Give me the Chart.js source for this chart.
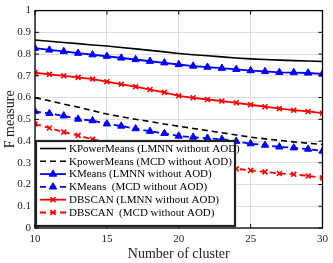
<!DOCTYPE html>
<html><head><meta charset="utf-8">
<script src="https://cdn.jsdelivr.net/npm/chart.js@4.4.1/dist/chart.umd.min.js"></script>
<style>html,body{margin:0;padding:0;background:#fff}#wrap{width:333px;height:263px}</style>
</head><body><div id="wrap"><canvas id="c" width="333" height="263"></canvas></div>
<script>
const clusters = [10,11,12,13,14,15,16,17,18,19,20,21,22,23,24,25,26,27,28,29,30];
const kpmLMNN = [0.865,0.859,0.853,0.848,0.842,0.837,0.830,0.824,0.817,0.810,0.803,0.797,0.792,0.787,0.782,0.778,0.775,0.772,0.770,0.768,0.766];
const kpmMCD  = [0.600,0.585,0.570,0.556,0.540,0.524,0.512,0.500,0.490,0.478,0.468,0.458,0.448,0.438,0.428,0.418,0.410,0.403,0.396,0.390,0.384];
const kmLMNN  = [0.827,0.819,0.812,0.804,0.797,0.790,0.782,0.775,0.767,0.760,0.752,0.745,0.740,0.735,0.730,0.724,0.720,0.716,0.715,0.713,0.709];
const kmMCD   = [0.536,0.527,0.516,0.501,0.494,0.479,0.469,0.457,0.445,0.435,0.423,0.418,0.413,0.408,0.399,0.388,0.381,0.373,0.369,0.363,0.354];
const dbLMNN  = [0.715,0.707,0.700,0.693,0.685,0.673,0.661,0.650,0.637,0.624,0.608,0.599,0.591,0.584,0.576,0.567,0.558,0.549,0.542,0.536,0.528];
const dbMCD   = [0.478,0.460,0.441,0.426,0.408,0.393,0.375,0.360,0.345,0.330,0.318,0.305,0.293,0.282,0.272,0.265,0.258,0.251,0.247,0.239,0.231];
const seriesLabels = ['KPowerMeans (LMNN without AOD)','KpowerMeans (MCD without AOD)','KMeans (LMNN without AOD)','KMeans  (MCD without AOD)','DBSCAN (LMNN without AOD)','DBSCAN  (MCD without AOD)'];
const yTicks = [0,0.1,0.2,0.3,0.4,0.5,0.6,0.7,0.8,0.9,1];
const xTicks = [10,15,20,25,30];

const pts = arr => arr.map((v,i)=>({x:clusters[i], y:v}));
const FONT = "'Liberation Serif','DejaVu Serif',serif";
const mk = (label, data, color, dash, style, radius, bw) => ({
  label, data: pts(data), borderColor: color, backgroundColor: color,
  borderWidth: bw, borderDash: dash, pointStyle: style, pointRadius: radius,
  pointBorderWidth: style==='crossRot'?1.6:1, pointBackgroundColor: color, pointBorderColor: color,
  tension: 0, fill: false
});
const datasets = [
  mk(seriesLabels[0], kpmLMNN, '#000000', [], false, 0, 1.6),
  mk(seriesLabels[1], kpmMCD, '#000000', [6,4], false, 0, 1.6),
  mk(seriesLabels[2], kmLMNN, '#0000ff', [], 'triangle', 4.2, 1.8),
  mk(seriesLabels[3], kmMCD, '#0000ff', [6,4], 'triangle', 4.2, 1.8),
  mk(seriesLabels[4], dbLMNN, '#ff0000', [], 'crossRot', 3.5, 1.8),
  mk(seriesLabels[5], dbMCD, '#ff0000', [6,4], 'crossRot', 3.5, 1.8)
];

const framePlugin = {
  id: 'frame',
  afterDatasetsDraw(chart) {
    const {ctx, chartArea: a, scales} = chart;
    ctx.save();
    ctx.strokeStyle = '#000'; ctx.lineWidth = 1.3;
    ctx.strokeRect(a.left, a.top, a.right-a.left, a.bottom-a.top);
    ctx.lineWidth = 1;
    const tl = 4;
    xTicks.forEach(t => {
      const x = scales.x.getPixelForValue(t);
      ctx.beginPath(); ctx.moveTo(x, a.bottom); ctx.lineTo(x, a.bottom-tl);
      ctx.moveTo(x, a.top); ctx.lineTo(x, a.top+tl); ctx.stroke();
    });
    yTicks.forEach(t => {
      const y = scales.y.getPixelForValue(t);
      ctx.beginPath(); ctx.moveTo(a.left, y); ctx.lineTo(a.left+tl, y);
      ctx.moveTo(a.right, y); ctx.lineTo(a.right-tl, y); ctx.stroke();
    });
    // legend
    const L = a.left + 1, T = 141, R = 235, B = 226;
    ctx.fillStyle = '#fff';
    ctx.fillRect(L, T, R-L, B-T);
    ctx.strokeStyle = '#222'; ctx.lineWidth = 2.2;
    ctx.strokeRect(L, T, R-L, B-T);
    ctx.font = '11px ' + FONT;
    ctx.textBaseline = 'middle'; ctx.textAlign = 'left';
    chart.data.datasets.forEach((ds, i) => {
      const y = 148.5 + i*12.8;
      ctx.save();
      ctx.strokeStyle = ds.borderColor; ctx.lineWidth = ds.borderWidth;
      ctx.setLineDash(ds.borderDash);
      ctx.beginPath(); ctx.moveTo(L+4, y); ctx.lineTo(L+30, y); ctx.stroke();
      ctx.setLineDash([]);
      if (ds.pointStyle) {
        ctx.fillStyle = ds.pointBackgroundColor; ctx.strokeStyle = ds.pointBorderColor;
        ctx.lineWidth = ds.pointBorderWidth;
        Chart.helpers.drawPoint(ctx, {pointStyle: ds.pointStyle, radius: ds.pointRadius, borderWidth: ds.pointBorderWidth, rotation: 0}, L+17, y);
      }
      ctx.restore();
      ctx.fillStyle = '#000';
      ctx.fillText(ds.label, L+33, y+0.5);
    });
    ctx.restore();
  }
};

new Chart(document.getElementById('c'), {
  type: 'line',
  data: { datasets },
  options: {
    responsive: false, animation: false, devicePixelRatio: 1,
    layout: { padding: { top: 5, right: 10, left: 0, bottom: 0 } },
    plugins: { legend: { display: false }, tooltip: { enabled: false } },
    scales: {
      x: {
        type: 'linear', min: 10, max: 30,
        afterBuildTicks: s => { s.ticks = xTicks.map(v => ({value: v})); },
        afterFit: s => { s.height = 35; },
        grid: { color: '#dedede', lineWidth: 1, drawTicks: false },
        border: { display: false },
        ticks: { color: '#222', font: { family: FONT, size: 11 }, padding: 5, maxRotation: 0 },
        title: { display: true, text: 'Number of cluster', color: '#222', font: { family: FONT, size: 14 }, padding: { top: 0, bottom: 0 } }
      },
      y: {
        min: 0, max: 1,
        afterBuildTicks: s => { s.ticks = yTicks.map(v => ({value: v})); },
        afterFit: s => { s.width = 35; },
        grid: { color: '#dedede', lineWidth: 1, drawTicks: false },
        border: { display: false },
        ticks: { color: '#222', font: { family: FONT, size: 11 }, padding: 4,
          callback: v => (v === 0 || v === 1) ? String(v) : v.toFixed(1) },
        title: { display: true, text: 'F measure', color: '#222', font: { family: FONT, size: 14 }, padding: { top: 2, bottom: 2 } }
      }
    }
  },
  plugins: [framePlugin]
});
</script>
</body></html>
